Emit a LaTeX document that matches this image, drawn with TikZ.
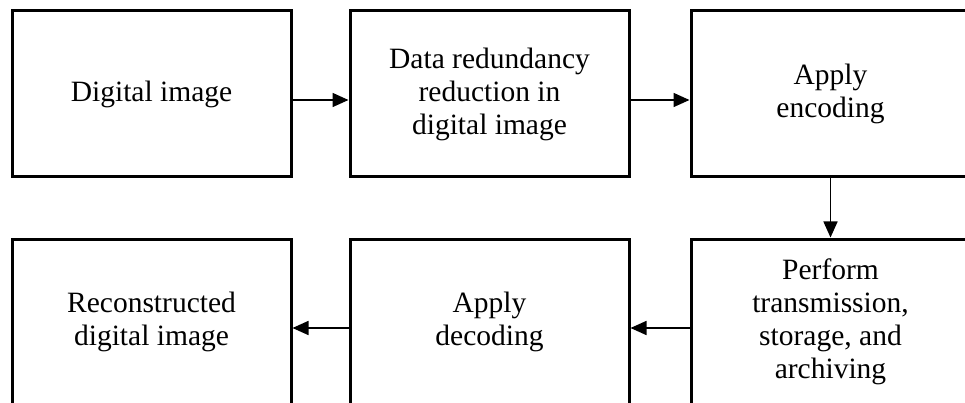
\documentclass[tikz,border=0pt]{standalone}
\usepackage{fontspec}
\setmainfont{Liberation Serif}
\usetikzlibrary{positioning}
\usetikzlibrary{arrows.meta}
\usetikzlibrary{calc}

\begin{document}
\begin{tikzpicture}[x=1pt, y=-1pt,
                          stepbox/.style={rectangle, draw, line width=3pt, minimum width=279pt, minimum height=166pt, align=center, font=\fontsize{29.5}{33}\selectfont},
                          flow/.style={-{Triangle[length=16pt,width=14pt]}, line width=1.6pt},
                      ]
                      \useasboundingbox (0,0) rectangle (965,403);
                      \clip (0,0) rectangle (965,403);
                      % Nodes
                      \node[stepbox]        (digital)                               at (151.5,94)   {Digital image};
                      \node[stepbox]        (reduction)    [right=56pt of digital]                  {Data redundancy\\reduction in\\digital image};
                      \node[stepbox]        (encoding)     [right=59pt of reduction]                {Apply\\encoding};
                      \node[stepbox]        (transmit)     [below=59pt of encoding]                 {Perform\\transmission,\\storage, and\\archiving};
                      \node[stepbox]        (decoding)     [below=59pt of reduction]                {Apply\\decoding};
                      \node[stepbox]        (recon)        [below=59pt of digital]                  {Reconstructed\\digital image};

                      %Lines
                      \draw[flow] ($(digital.east)+(0,6)$) -- ($(reduction.west)+(0,6)$);
                      \draw[flow] ($(reduction.east)+(0,6)$) -- ($(encoding.west)+(0,6)$);
                      \draw[flow] (encoding.south) -- (transmit.north);
                      \draw[flow] ($(transmit.west)+(0,6)$) -- ($(decoding.east)+(0,6)$);
                      \draw[flow] ($(decoding.west)+(0,6)$) -- ($(recon.east)+(0,6)$);
                  \end{tikzpicture}
\end{document}
